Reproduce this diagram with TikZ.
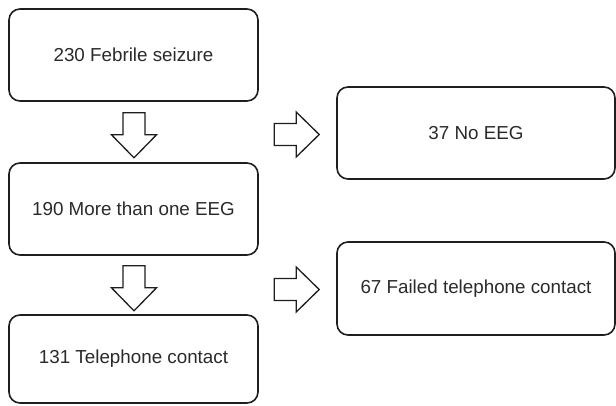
\documentclass[tikz,border=0pt]{standalone}
\usepackage{fontspec}
\setmainfont{Liberation Sans}
\usetikzlibrary{calc}
\definecolor{linecol}{HTML}{1E1E1E}
\definecolor{textcol}{HTML}{2A2A2A}
\begin{document}
\begin{tikzpicture}[x=1pt,y=1pt,
  box/.style={draw=linecol, line width=1.6pt, rounded corners=11pt, fill=white,
    inner sep=0pt, text=textcol, font=\fontsize{18.8}{22}\selectfont},
  blockarrow/.pic={\draw[draw=linecol, line width=1.3pt, fill=white, line join=miter]
    (0,11) -- (22,11) -- (22,22.5) -- (45,0) -- (22,-22.5) -- (22,-11) -- (0,-11) -- cycle;}
]
\useasboundingbox (0,0) rectangle (616,-405);
\node[box, minimum width=249pt, minimum height=92pt] (b1) at (133.5,-55) {230 Febrile seizure};
\node[box, minimum width=249pt, minimum height=92pt] (b2) at (133.5,-209) {190 More than one EEG};
\node[box, minimum width=249pt, minimum height=88pt] (b3) at (133.5,-359) {131 Telephone contact};
\node[box, minimum width=278pt, minimum height=92pt] (r1) at (476,-133) {37 No EEG};
\node[box, minimum width=278pt, minimum height=93pt] (r2) at (476,-288.5) {67 Failed telephone contact};
\pic[rotate=-90] at ($(b1.south)+(0.5,-11)$) {blockarrow};
\pic[rotate=-90] at ($(b2.south)+(0.5,-10)$) {blockarrow};
\pic at ($(r1.west)+(-62,-1.5)$) {blockarrow};
\pic at ($(r2.west)+(-62,-1)$) {blockarrow};
\end{tikzpicture}
\end{document}
